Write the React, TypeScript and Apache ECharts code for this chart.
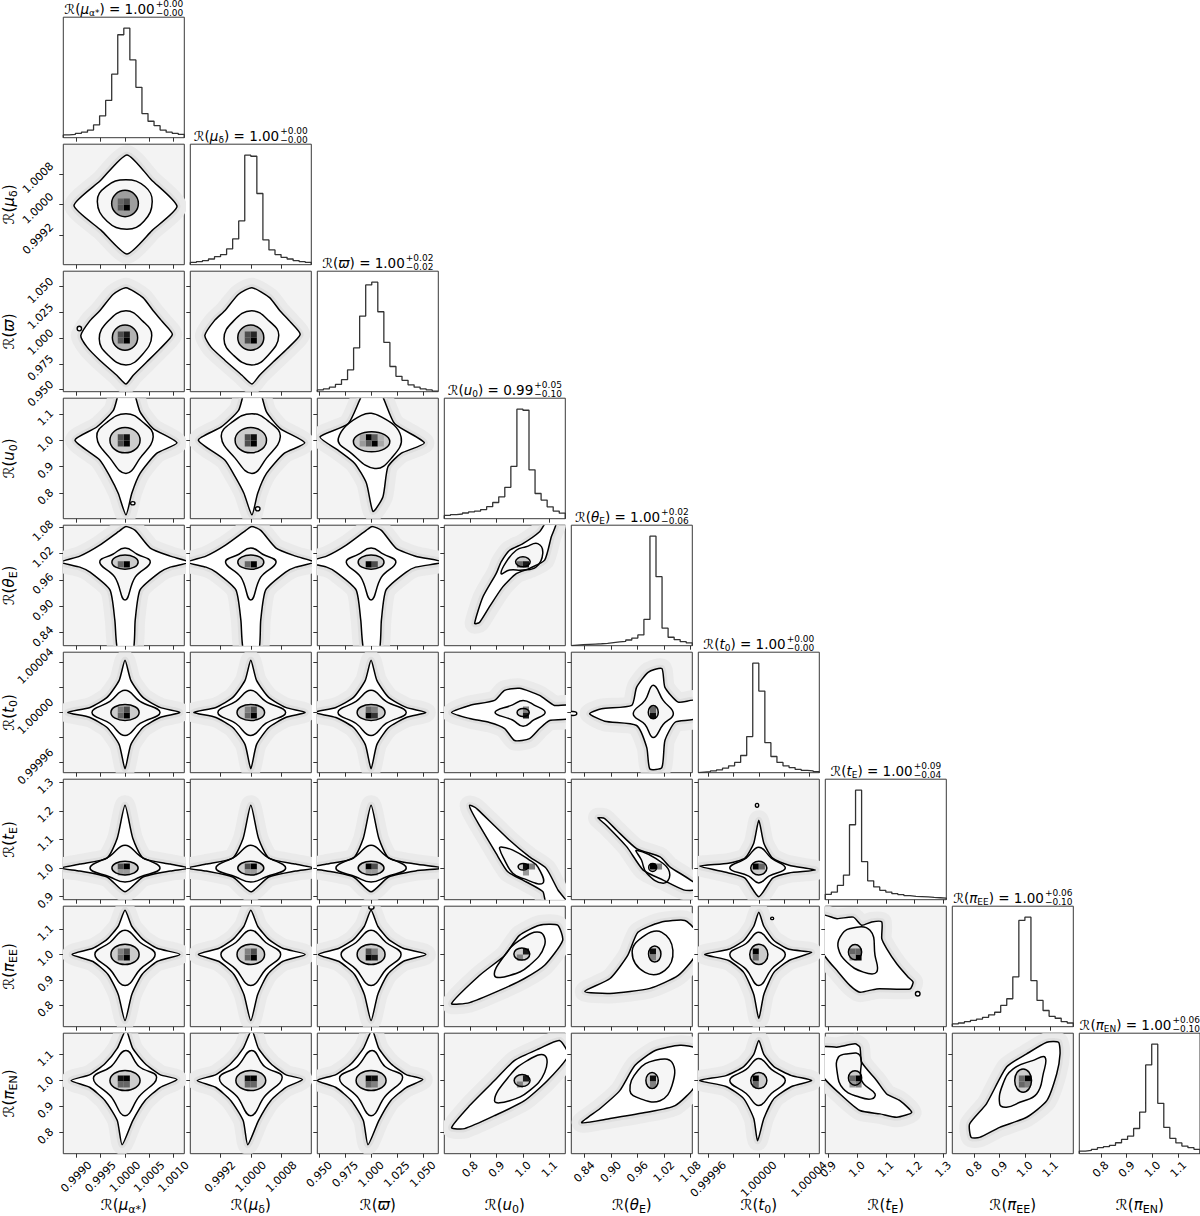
import React, { useEffect, useRef } from "react";
import * as echarts from "echarts";

// ---------------- variables / axes ----------------
const VAR_SYMBOL = ["μ", "μ", "ϖ", "u", "θ", "t", "t", "π", "π"];
const VAR_SUBSCRIPT = ["α*", "δ", "", "0", "E", "0", "E", "EE", "EN"];
const RANGE_LO = [0.99873, 0.99842, 0.948, 0.7025, 0.8106, 0.999952, 0.8896, 0.715, 0.717];
const RANGE_HI = [1.00122, 1.00158, 1.065, 1.159, 1.0838, 1.000048, 1.3104, 1.19, 1.183];
// contour vertices below are stored as offsets from 1 in these units
const OFFSET_UNIT = [1e-4, 1e-4, 1e-2, 1e-2, 1e-2, 1e-5, 1e-2, 1e-2, 1e-2];
const TICK_VALUES = [
  [0.999, 0.9995, 1.0, 1.0005, 1.001],
  [0.9992, 1.0, 1.0008],
  [0.95, 0.975, 1.0, 1.025, 1.05],
  [0.8, 0.9, 1.0, 1.1],
  [0.84, 0.9, 0.96, 1.02, 1.08],
  [0.99996, 0.99998, 1.0, 1.00002, 1.00004],
  [0.9, 1.0, 1.1, 1.2, 1.3],
  [0.8, 0.9, 1.0, 1.1],
  [0.8, 0.9, 1.0, 1.1],
];
const TICK_LABELS = [
  ["0.9990", "0.9995", "1.0000", "1.0005", "1.0010"],
  ["0.9992", "1.0000", "1.0008"],
  ["0.950", "0.975", "1.000", "1.025", "1.050"],
  ["0.8", "0.9", "1.0", "1.1"],
  ["0.84", "0.90", "0.96", "1.02", "1.08"],
  ["0.99996", "", "1.00000", "", "1.00004"],
  ["0.9", "1.0", "1.1", "1.2", "1.3"],
  ["0.8", "0.9", "1.0", "1.1"],
  ["0.8", "0.9", "1.0", "1.1"],
];
const MEDIAN = ["1.00", "1.00", "1.00", "0.99", "1.00", "1.00", "1.00", "1.00", "1.00"];
const ERR_PLUS = ["+0.00", "+0.00", "+0.02", "+0.05", "+0.02", "+0.00", "+0.09", "+0.06", "+0.06"];
const ERR_MINUS = ["−0.00", "−0.00", "−0.02", "−0.10", "−0.06", "−0.00", "−0.04", "−0.10", "−0.10"];

// ---------------- 1D histograms (20 bins across each axis range, relative counts) ----------------
const HIST_MU_A = [2.5, 3, 4, 5, 7, 11.7, 20, 34, 58, 94, 100, 71, 46, 22, 15, 11, 7, 5, 4, 3];
const HIST_MU_D = [2.1, 2.8, 3.7, 5.2, 7.3, 9.2, 14.4, 23.5, 40, 100, 99, 65, 22.6, 13.5, 9.2, 6.7, 5.2, 3.7, 2.8, 2.1];
const HIST_PLX = [1.6, 2.5, 4.1, 6.6, 11, 20, 40, 69, 97.5, 100, 73, 45, 23, 14, 10.4, 6.3, 4.1, 2.5, 1.6, 0.6];
const HIST_U0 = [3, 3.7, 4.3, 5.2, 6.2, 7, 8.3, 11, 14.8, 20, 28.6, 47.7, 100, 99, 44.6, 23, 17, 10.8, 7, 5];
const HIST_THE = [0.6, 0.9, 1.2, 1.5, 1.8, 2.2, 2.8, 3.4, 4, 5.2, 7, 9.8, 24, 100, 63, 16, 7.7, 5.5, 3.7, 2.5];
const HIST_T0 = [0.6, 0.9, 1.6, 2.5, 4.1, 6.3, 9.4, 15.7, 33, 100, 74.5, 27.4, 14.8, 9.4, 6.3, 4.7, 3.1, 2.2, 1.6, 0.9];
const HIST_TE = [4.9, 7, 13, 22.4, 68.4, 100, 34.7, 17.2, 11.7, 8.6, 7, 5.5, 4.6, 3.7, 3.1, 2.8, 2.5, 2.1, 1.8, 1.5];
const HIST_PIEE = [2.5, 3.4, 4.6, 5.8, 7, 8.6, 10.8, 13.2, 19.4, 25.5, 45.5, 97, 100, 42, 24, 14.8, 9.5, 7.7, 4.6, 3.4];
const HIST_PIEN = [2.4, 3, 4, 5.5, 6.4, 7.6, 10, 13, 16, 23, 38, 81, 100, 46, 24, 14, 9.8, 7, 5.5, 4];
const HISTS = [HIST_MU_A, HIST_MU_D, HIST_PLX, HIST_U0, HIST_THE, HIST_T0, HIST_TE, HIST_PIEE, HIST_PIEN];

// ---------------- 2D panels: contours (offset units), inner ellipse [cx,cy,rx,ry], dense cells [ix,iy,gray], small islands [cx,cy,rx,ry] ----------------
const P10 = { out: [[-10.5, -0.3], [-5.1, 6.2], [0.4, 13], [5.4, 6.5], [10.7, -0.5], [5.6, -6.8], [0.4, -13], [-4.9, -6.8]],
  mid: [[-5.7, 0.8], [-3.9, 4.7], [0.2, 6.5], [4.1, 4.7], [5.6, 0.8], [3.9, -4.4], [0.4, -6.5], [-3.7, -4.4]],
  inn: [0, 0.25, 2.75, 3.45], cells: [[10, 9, 0], [10, 10, 0.3], [9, 9, 0.35], [9, 10, 0.4]], fill: 0.62 };
const P20 = { out: [[-9.1, 0.26], [-7.2, 1.7], [-5.2, 2.66], [-2.4, 4.26], [0.2, 4.9], [3.7, 3.94], [5.8, 2.66], [7.8, 1.54], [9.75, 0.36], [7.2, -1.03], [4.5, -2.3], [1.7, -3.6], [0.2, -4.45], [-1.7, -3.6], [-5.2, -2.14], [-7.8, -0.87]],
  mid: [[-5.3, -0.07], [-3.5, 1.63], [0.2, 2.66], [3.7, 1.63], [5.5, 0.26], [3.5, -1.63], [0.2, -2.6], [-3.5, -1.63]],
  inn: [0, 0.05, 2.6, 1.22], cells: [[10, 8, 0], [10, 9, 0.1], [9, 9, 0.3], [9, 8, 0.35]], fill: 0.7,
  blobs: [[-9.4, 0.93, 0.45, 0.22]] };
const P21 = { out: [[-12, 0.26], [-9.5, 1.7], [-6.8, 2.66], [-3.2, 4.26], [0.3, 4.9], [4.9, 3.94], [7.6, 2.66], [10.4, 1.54], [12.9, 0.36], [9.5, -1.03], [5.9, -2.3], [2.3, -3.6], [0.3, -4.45], [-2.3, -3.6], [-6.8, -2.14], [-10.4, -0.87]],
  mid: [[-7, -0.07], [-4.6, 1.63], [0.26, 2.66], [4.9, 1.63], [7.3, 0.26], [4.6, -1.63], [0.26, -2.6], [-4.6, -1.63]],
  inn: [0, 0.05, 3.4, 1.22], cells: [[10, 8, 0], [10, 9, 0.15], [9, 8, 0.3], [9, 9, 0.3]], fill: 0.7 };
const P30 = { out: [[-10.3, 0], [-5.8, 5], [-2.4, 11.3], [-1.0, 18.9], [1.6, 18.9], [3.1, 10.7], [5.8, 4.4], [10.7, -1], [6.5, -5], [3.1, -12.6], [1.4, -20.1], [0.2, -28.3], [-1.4, -20.1], [-3.1, -13.8], [-5.2, -7.5]],
  mid: [[-5.8, 1.26], [-3.7, 6.8], [0.2, 10], [3.7, 6.8], [5.8, 1.26], [3.1, -6.8], [0.2, -12.6], [-3.1, -6.8]],
  inn: [0, 0, 3.1, 4.8], cells: [[10, 12, 0], [10, 13, 0.05], [9, 12, 0.3], [9, 13, 0.3]],
  blobs: [[1.6, -23.9, 0.45, 0.6]] };
const P31 = { out: [[-13.7, 0], [-7.7, 5], [-3.2, 11.3], [-1.4, 18.9], [2.2, 18.9], [4.1, 10.7], [7.7, 4.4], [14.1, -1], [8.7, -5], [4.1, -12.6], [1.8, -20.1], [0.3, -28.3], [-1.8, -20.1], [-4.1, -13.8], [-6.8, -7.5]],
  mid: [[-7.7, 1.26], [-4.9, 6.8], [0.3, 10], [4.9, 6.8], [7.7, 1.26], [4.1, -6.8], [0.3, -12.6], [-4.1, -6.8]],
  inn: [0, 0, 4.1, 4.8], cells: [[10, 12, 0], [10, 13, 0.05], [9, 12, 0.3], [9, 13, 0.3]],
  blobs: [[1.8, -26, 0.6, 0.8]] };
const P32 = { out: [[-4.94, 1.25], [-2.2, 6.3], [-0.6, 18.9], [0.8, 18.9], [2.27, 6.3], [5.15, -1.0], [2.9, -5], [1.63, -10.1], [1.15, -21.4], [0.19, -27], [-0.45, -16.3], [-1.58, -8.8], [-3.2, -3.8]],
  mid: [[-3.17, 0.64], [-0.93, 9.4], [0.99, 8.8], [2.9, 1.25], [1.95, -6.9], [0.35, -10.7], [-1.9, -5]],
  inn: [0.05, -0.6, 1.76, 3.8], cells: [[8, 13, 0], [9, 12, 0], [9, 13, 0.35], [8, 12, 0.35], [7, 12, 0.6], [10, 12, 0.65], [7, 13, 0.65], [10, 13, 0.7]] };
const P40 = { out: [[-13.2, 0], [-9.3, 1.36], [-5.2, 3.85], [-1, 7.2], [0.2, 8.1], [2.1, 7.2], [5.2, 3.2], [9.3, 1.36], [13.2, 0], [9.3, -1.13], [7.2, -2.26], [3.1, -6.3], [2.1, -13.1], [1.6, -20.4], [-1.4, -20.4], [-2.1, -13.1], [-3.1, -6.3], [-7.2, -2.26], [-9.3, -1.13]],
  mid: [[-5.2, 0], [-2.5, 1.8], [0, 3.2], [2.5, 1.8], [5.2, 0], [2.1, -3.4], [0, -8.6], [-2.1, -3.4]],
  inn: [0, 0, 2.7, 1.6], cells: [[10, 13, 0], [9, 13, 0.4]] };
const P41 = { out: [[-16.6, 0], [-11.7, 1.36], [-6.6, 3.85], [-1.3, 7.2], [0.25, 8.1], [2.6, 7.2], [6.6, 3.2], [11.7, 1.36], [16.6, 0], [11.7, -1.13], [9.1, -2.26], [3.9, -6.3], [2.6, -13.1], [2, -20.4], [-1.8, -20.4], [-2.6, -13.1], [-3.9, -6.3], [-9.1, -2.26], [-11.7, -1.13]],
  mid: [[-6.6, 0], [-3.1, 1.8], [0, 3.2], [3.1, 1.8], [6.6, 0], [2.6, -3.4], [0, -8.6], [-2.6, -3.4]],
  inn: [0, 0, 3.4, 1.6], cells: [[10, 13, 0], [9, 13, 0.4]] };
const P42 = { out: [[-6.2, 0], [-4.3, 1.36], [-2.4, 3.85], [-0.47, 7.2], [0.1, 8.1], [1, 7.2], [2.4, 3.2], [4.3, 1.36], [7, 0], [4.3, -1.13], [3.4, -2.26], [1.45, -6.3], [1, -13.1], [0.75, -20.4], [-0.65, -20.4], [-1, -13.1], [-1.45, -6.3], [-3.4, -2.26], [-4.3, -1.13]],
  mid: [[-2.4, 0], [-1.2, 1.8], [0, 3.2], [1.2, 1.8], [2.4, 0], [1, -3.4], [0, -8.6], [-1, -3.4]],
  inn: [0, 0, 1.25, 1.6], cells: [[8, 13, 0], [9, 13, 0.3]] };
const P43 = { out: [[-18.3, -13.9], [-15.2, -7.9], [-10.2, -2.6], [-8.3, 0.07], [-5.1, 2.7], [-0.1, 4.2], [6.2, 6.9], [8.7, 9], [12.5, 9], [10.6, 5.7], [8.1, 0.45], [2.4, -1.4], [-2.6, -2.6], [-7.7, -5.6], [-12.7, -10.1], [-16.5, -13.7]],
  mid: [[-8.3, -2.6], [-6.4, 0.07], [-2.6, 2.7], [1.1, 3.5], [5.5, 4.2], [7.4, 2.0], [4.9, -1.1], [-0.1, -1.8], [-5.1, -1.8]],
  inn: [-0.1, 0.07, 2.76, 1.13], cells: [[13, 13, 0.1], [12, 13, 0.4]] };
const P50 = { out: [[-11.8, 0], [-7.2, 0.4], [-3.7, 1.2], [-1.2, 2.56], [0, 4.16], [1.2, 2.56], [3.7, 1.2], [7.2, 0.4], [11.3, 0], [7.2, -0.4], [3.7, -1.2], [1.2, -2.56], [0, -4.48], [-1.2, -2.56], [-3.7, -1.2], [-7.2, -0.4]],
  mid: [[-6.8, 0], [-3.1, 0.88], [0, 1.76], [3.1, 0.88], [7.2, 0], [3.1, -0.88], [0, -1.84], [-3.1, -0.88]],
  inn: [0, 0, 2.9, 0.64], cells: [[10, 9, 0], [10, 10, 0.3], [9, 9, 0.4], [9, 10, 0.5]] };
const P51 = { out: [[-14.9, 0], [-9.1, 0.4], [-4.7, 1.2], [-1.5, 2.56], [0, 4.16], [1.5, 2.56], [4.7, 1.2], [9.1, 0.4], [14.2, 0], [9.1, -0.4], [4.7, -1.2], [1.5, -2.56], [0, -4.48], [-1.5, -2.56], [-4.7, -1.2], [-9.1, -0.4]],
  mid: [[-8.6, 0], [-3.9, 0.88], [0, 1.76], [3.9, 0.88], [9.1, 0], [3.9, -0.88], [0, -1.84], [-3.9, -0.88]],
  inn: [0, 0, 3.6, 0.64], cells: [[10, 9, 0], [10, 10, 0.3], [9, 9, 0.4], [9, 10, 0.5]] };
const P52 = { out: [[-5.5, 0], [-3.4, 0.4], [-1.7, 1.2], [-0.56, 2.56], [0, 4.16], [0.56, 2.56], [1.7, 1.2], [3.4, 0.4], [5.3, 0], [3.4, -0.4], [1.7, -1.2], [0.56, -2.56], [0, -4.48], [-0.56, -2.56], [-1.7, -1.2], [-3.4, -0.4]],
  mid: [[-3.2, 0], [-1.45, 0.88], [0, 1.76], [1.45, 0.88], [3.4, 0], [1.45, -0.88], [0, -1.84], [-1.45, -0.88]],
  inn: [0, 0, 1.35, 0.64], cells: [[8, 9, 0], [9, 9, 0.2], [8, 10, 0.4], [9, 10, 0.5]] };
const P53 = { out: [[-27, 0], [-20.2, 0.56], [-10.8, 0.96], [-7, 1.76], [-1.4, 1.92], [6.2, 1.36], [11.8, 0.56], [17, 0.56], [17, -0.48], [10, -0.64], [6.2, -1.28], [2.4, -2.08], [-3.2, -2.24], [-7, -1.28], [-12.7, -0.8], [-20.2, -0.48]],
  mid: [[-10.6, 0], [-4, 0.6], [0, 0.96], [4, 0.6], [8.3, 0], [4, -0.6], [0, -1.1], [-4, -0.6]],
  inn: [0, 0, 2.3, 0.32], cells: [[13, 9, 0.1], [13, 10, 0.5]] };
const P54 = { out: [[-14.8, -0.1], [-12.1, 0.3], [-5.3, 0.56], [-4.2, 2.0], [-1.6, 3.2], [1.5, 3.5], [2.2, 2.0], [5.2, 0.82], [9, 0.96], [9, -0.5], [4.5, -0.78], [2.2, -2.24], [1.5, -4.4], [-1.2, -4.5], [-1.9, -2.8], [-4.2, -1.04], [-11.4, -0.7]],
  mid: [[-4.95, -0.1], [-2.3, 0.96], [-0.43, 2.16], [1.8, 0.96], [4.1, -0.1], [1.8, -0.96], [-0.43, -2.0], [-2.3, -0.96]],
  inn: [-0.43, 0.02, 1.13, 0.53], cells: [[13, 9, 0.05], [13, 10, 0.4]],
  blobs: [[-18.6, -0.08, 0.9, 0.16]] };
const P60 = { out: [[-13.2, 0], [-9.3, 1.4], [-3.7, 3.5], [-1.6, 10.4], [0, 21.9], [1.6, 10.4], [3.7, 3.5], [9.3, 1.4], [13.2, 0], [9.3, -1], [3.7, -3.1], [0, -8.3], [-3.7, -3.1], [-9.3, -1]],
  mid: [[-7.2, 0], [-3.1, 4.2], [0, 8], [3.1, 4.2], [7.2, 0], [3.1, -3.1], [0, -4.9], [-3.1, -3.1]],
  inn: [0, 0, 2.7, 2.4], cells: [[10, 5, 0], [9, 5, 0.3], [10, 4, 0.6], [9, 4, 0.6]] };
const P61 = { out: [[-16.6, 0], [-11.7, 1.4], [-4.7, 3.5], [-2, 10.4], [0, 21.9], [2, 10.4], [4.7, 3.5], [11.7, 1.4], [16.6, 0], [11.7, -1], [4.7, -3.1], [0, -8.3], [-4.7, -3.1], [-11.7, -1]],
  mid: [[-9.1, 0], [-3.9, 4.2], [0, 8], [3.9, 4.2], [9.1, 0], [3.9, -3.1], [0, -4.9], [-3.9, -3.1]],
  inn: [0, 0, 3.4, 2.4], cells: [[10, 5, 0], [9, 5, 0.3], [10, 4, 0.6], [9, 4, 0.6]] };
const P62 = { out: [[-6.2, 0], [-4.3, 1.4], [-1.7, 3.5], [-0.75, 10.4], [0, 21.9], [0.75, 10.4], [1.7, 3.5], [4.3, 1.4], [7, 0], [4.3, -1], [1.7, -3.1], [0, -8.3], [-1.7, -3.1], [-4.3, -1]],
  mid: [[-3.4, 0], [-1.45, 4.2], [0, 8], [1.45, 4.2], [3.4, 0], [1.45, -3.1], [0, -4.9], [-1.45, -3.1]],
  inn: [0, 0, 1.25, 2.4], cells: [[8, 5, 0], [9, 5, 0.3], [8, 4, 0.6], [9, 4, 0.6]] };
const P63 = { out: [[-20.2, 21.9], [-19.6, 20.1], [-16.5, 14.9], [-10.2, 5.1], [-5.8, -1.3], [-0.1, -4.2], [7.4, -8.2], [8.7, -12], [16.5, -12], [13.1, -7.6], [8.7, -0.1], [2.4, 3.9], [-5.1, 9.7], [-17.1, 20.4], [-18.3, 21.3]],
  mid: [[-8.9, 6.8], [-7, 2.8], [-3.9, -1.8], [-0.1, -3.6], [7.4, -5.3], [5.5, 0.45], [2.4, 2.8], [-3.9, 6.25], [-8.3, 7.4]],
  inn: [0, 0.45, 1.9, 1.15], cells: [[13, 5, 0.05], [14, 5, 0.5], [13, 4, 0.6]] };
const P64 = { out: [[-12.9, 17.6], [-11.4, 17.3], [-8.7, 13.2], [-4.2, 6.8], [1.1, 3.9], [3.3, 0.45], [9, -5.3], [9, -7.6], [6.4, -7.6], [1.8, -4.2], [-2.7, -0.7], [-6.4, 7.4], [-11, 14.9], [-12.5, 16.9]],
  mid: [[-4.2, 6.25], [1.8, 1.6], [3.3, -2.4], [1.8, -5.3], [-1.9, -1.8], [-3.1, 2.8]],
  inn: [-0.57, 0.24, 0.9, 1.4], cells: [[13, 5, 0], [14, 5, 0.5]] };
const P65 = { out: [[-4.7, 0.7], [-2.4, 1.7], [-1.1, 3.5], [-0.4, 8.7], [0, 16.7], [0.4, 8.7], [1.1, 3.5], [2.4, 1], [4.5, -0.7], [2.4, -1.7], [1.1, -3.5], [0, -10], [-1.1, -3.5], [-2.4, -1.7]],
  mid: [[-2.3, 0], [-1, 3.5], [0, 7.3], [1, 3.5], [2.1, 0], [0.8, -2.8], [0, -5.2], [-0.8, -2.8]],
  inn: [0, 0, 0.64, 2.4], cells: [[9, 5, 0], [10, 5, 0.4]],
  blobs: [[-0.14, 21.9, 0.13, 0.7]] };
const P70 = { out: [[-10.9, 0], [-6.6, 2.4], [-3.7, 5.9], [-1.4, 11.1], [0, 17.4], [1.4, 11.1], [3.7, 5.9], [6.6, 2.4], [11.3, 0], [6.6, -2.8], [3.5, -7.9], [1.4, -15.8], [0, -26.1], [-1.4, -15.8], [-3.5, -7.9], [-6.6, -2.8]],
  mid: [[-6.2, 0], [-3.1, 4.7], [0, 9.5], [3.1, 4.7], [6.2, 0], [3.1, -5.9], [0, -12.3], [-3.1, -5.9]],
  inn: [0, 0, 2.9, 4], cells: [[10, 11, 0], [10, 12, 0.3], [9, 11, 0.4], [9, 12, 0.5]] };
const P71 = { out: [[-13.7, 0], [-8.3, 2.4], [-4.7, 5.9], [-1.8, 11.1], [0, 17.4], [1.8, 11.1], [4.7, 5.9], [8.3, 2.4], [14.2, 0], [8.3, -2.8], [4.4, -7.9], [1.8, -15.8], [0, -26.1], [-1.8, -15.8], [-4.4, -7.9], [-8.3, -2.8]],
  mid: [[-7.8, 0], [-3.9, 4.7], [0, 9.5], [3.9, 4.7], [7.8, 0], [3.9, -5.9], [0, -12.3], [-3.9, -5.9]],
  inn: [0, 0, 3.6, 4], cells: [[10, 11, 0], [10, 12, 0.3], [9, 11, 0.4], [9, 12, 0.5]] };
const P72 = { out: [[-5.1, 0], [-3.1, 2.4], [-1.7, 5.9], [-0.65, 11.1], [0, 17.4], [0.65, 11.1], [1.7, 5.9], [3.1, 2.4], [5.3, 0], [3.1, -2.8], [1.6, -7.9], [0.65, -15.8], [0, -26.1], [-0.65, -15.8], [-1.6, -7.9], [-3.1, -2.8]],
  mid: [[-2.9, 0], [-1.45, 4.7], [0, 9.5], [1.45, 4.7], [2.9, 0], [1.45, -5.9], [0, -12.3], [-1.45, -5.9]],
  inn: [0, 0, 1.35, 4], cells: [[8, 11, 0], [9, 11, 0.1], [8, 12, 0.3], [9, 12, 0.5]],
  blobs: [[0.03, 18.6, 0.25, 0.8]] };
const P73 = { out: [[-27, -19.4], [-16.5, -8.3], [-7, -0.4], [-1.4, 7.5], [6.2, 11.5], [13, 11.5], [14.9, 5.5], [8.1, -4.3], [0.5, -9.5], [-8.9, -14.2], [-20.2, -19]],
  mid: [[-10.8, -8.3], [-7, -0.4], [-1.4, 5.5], [6.2, 8.7], [8.1, 3.6], [2.4, -4.3], [-5.1, -8.3]],
  inn: [-0.5, 0.16, 3, 2.4], cells: [[13, 12, 0.1], [12, 11, 0.5]] };
const P74 = { out: [[-15.9, -14.6], [-10.2, -9.5], [-6.2, -0.4], [-3.9, 8.7], [1.1, 12.6], [6.7, 13.4], [9, 9.5], [9, -0.4], [5.2, -8.3], [-1.2, -13.4], [-10.2, -15.4]],
  mid: [[-5.2, 0.8], [-2.3, 7.5], [1.5, 8.7], [4, 1.6], [2.2, -6.3], [-2.3, -7.1]],
  inn: [-0.1, 0.16, 1.4, 3.2], cells: [[13, 12, 0.05], [13, 11, 0.5]] };
const P75 = { out: [[-4.3, 0], [-2.4, 2], [-1.2, 5.5], [-0.4, 11.1], [0, 16.6], [0.4, 11.1], [1.2, 5.5], [2.4, 2], [4.2, 0.8], [2.4, -2.4], [1.2, -7.1], [0.4, -15.8], [0, -25.3], [-0.4, -15.8], [-1.2, -7.1], [-2.4, -2.4]],
  mid: [[-2.3, 0], [-1, 4.3], [0, 8.7], [1, 4.3], [2.1, 0], [1, -5.9], [0, -12.3], [-1, -5.9]],
  inn: [0, 0, 0.72, 4], cells: [[9, 12, 0], [9, 11, 0.4]],
  blobs: [[1.06, 14.2, 0.12, 0.5]] };
const P76 = { out: [[-12, 15.4], [-7, 14.1], [-1.3, 14.7], [1.6, 11.5], [5.1, 12.8], [8.6, 12.8], [8.6, 6.2], [10.3, 2.3], [13.8, -3.7], [17.8, -9], [19.5, -10.9], [18.4, -13.6], [6.8, -13.6], [1, -14.9], [-2.4, -12.3], [-6.5, -7], [-12, 0.9]],
  mid: [[-5.9, 6.8], [-2.4, 10.2], [4.5, 9.5], [6.25, -0.4], [6.8, -7], [2.2, -7], [-3.6, -3], [-6.5, 2.3]],
  inn: [-0.7, 0.9, 2.3, 3], cells: [[5, 11, 0], [4, 12, 0.4], [5, 12, 0.4], [4, 11, 0.6]],
  blobs: [[21.1, -15.5, 0.8, 0.9]] };
const P80 = { out: [[-11.1, 0], [-7.2, 2.3], [-4.1, 6.6], [-1.6, 12.4], [0.2, 19.5], [1.6, 12.4], [4.1, 6.6], [7.2, 2.3], [10.7, 0.4], [7.2, -2.7], [4.1, -7.8], [1.6, -15.5], [-0.6, -24.8], [-1.6, -15.5], [-4.1, -7.8], [-7.2, -2.7]],
  mid: [[-6.5, 0.9], [-2.9, 5.4], [0.2, 11.6], [2.9, 5.4], [6.5, 1.3], [2.9, -6.2], [0, -13.6], [-2.9, -6.2]],
  inn: [0, 0, 3.1, 3.9], cells: [[10, 12, 0], [9, 12, 0.05], [10, 11, 0.4], [9, 11, 0.4]] };
const P81 = { out: [[-14, 0], [-9.1, 2.3], [-5.2, 6.6], [-2, 12.4], [0.25, 19.5], [2, 12.4], [5.2, 6.6], [9.1, 2.3], [13.5, 0.4], [9.1, -2.7], [5.2, -7.8], [2, -15.5], [-0.8, -24.8], [-2, -15.5], [-5.2, -7.8], [-9.1, -2.7]],
  mid: [[-8.2, 0.9], [-3.6, 5.4], [0.25, 11.6], [3.6, 5.4], [8.2, 1.3], [3.6, -6.2], [0, -13.6], [-3.6, -6.2]],
  inn: [0, 0, 3.9, 3.9], cells: [[10, 12, 0], [9, 12, 0.05], [10, 11, 0.4], [9, 11, 0.4]] };
const P82 = { out: [[-5.2, 0], [-3.4, 2.3], [-1.9, 6.6], [-0.75, 12.4], [0.1, 19.5], [0.75, 12.4], [1.9, 6.6], [3.4, 2.3], [5, 0.4], [3.4, -2.7], [1.9, -7.8], [0.75, -15.5], [-0.3, -24.8], [-0.75, -15.5], [-1.9, -7.8], [-3.4, -2.7]],
  mid: [[-3.05, 0.9], [-1.35, 5.4], [0.1, 11.6], [1.35, 5.4], [3.05, 1.3], [1.35, -6.2], [0, -13.6], [-1.35, -6.2]],
  inn: [0, 0, 1.45, 3.9], cells: [[8, 12, 0], [9, 12, 0.05], [8, 11, 0.4], [9, 11, 0.5]] };
const P83 = { out: [[-27, -18.2], [-20.2, -9.7], [-10.8, 0], [-3.2, 7.8], [6.2, 12.4], [13.7, 15.5], [17, 9.7], [9.2, 0], [0.5, -7.8], [-10.8, -13.6], [-22.1, -18.6]],
  mid: [[-10.8, -7.8], [-5.1, 1.9], [1.7, 7.8], [8.1, 9.7], [8.1, 3.1], [2.4, -3.9], [-5.1, -7.8]],
  inn: [-0.4, 0, 3, 2.3], cells: [[13, 12, 0.1], [12, 11, 0.5]] };
const P84 = { out: [[-16.6, -16.3], [-12.5, -10.9], [-8, -3.9], [-4.6, 5.8], [0, 11.6], [5.6, 13.6], [9, 12.4], [9, -1.9], [4.5, -9.7], [-2.3, -12.4], [-10.2, -14.7]],
  mid: [[-5.7, -3.9], [-3.9, 3.9], [0, 7.8], [3.8, 7], [3.8, -1.9], [1.1, -7.8], [-3.4, -7]],
  inn: [-0.7, 0, 1.4, 3.1], cells: [[13, 12, 0.05], [13, 11, 0.5]] };
const P85 = { out: [[-4.7, 0], [-2.6, 1.9], [-1.2, 5.4], [-0.4, 10.1], [0, 15.5], [0.4, 10.1], [1.2, 5.4], [2.6, 1.9], [4.2, 0], [2.6, -2.3], [1.2, -7], [0.4, -14.7], [-0.1, -23.3], [-0.4, -14.7], [-1.2, -7], [-2.6, -2.3]],
  mid: [[-2.3, 0], [-1, 4.3], [0, 8.5], [1, 4.3], [2.1, 0], [1, -5], [0, -9.7], [-1, -5]],
  inn: [0, 0, 0.64, 3.1], cells: [[9, 12, 0], [9, 11, 0.4]] };
const P86 = { out: [[-12, 12.9], [-7, 12.9], [-0.7, 14.2], [1, 12.9], [1.6, 7.1], [6.8, 0], [10.3, -5.2], [14.9, -7.8], [19, -12.3], [13.8, -14.2], [8, -12.9], [1, -11.6], [-5.9, -5.2], [-12, 1.9]],
  mid: [[-6.5, 9], [-3.6, 10.3], [1, 9.7], [1.6, 0], [6.25, -5.2], [5.1, -7.1], [1, -6.5], [-4.8, -3.2], [-7, 3.9]],
  inn: [-0.7, 1, 2.3, 2.8], cells: [[5, 12, 0], [4, 12, 0.4], [5, 11, 0.5], [4, 11, 0.6]] };
const P87 = { out: [[-21.1, -22], [-21.7, -16.8], [-15.1, -9], [-7.2, 5.2], [0.7, 10.3], [8.6, 14.8], [13.2, 14.8], [13.8, 10.3], [12.5, 2.6], [8.6, -7.8], [0.7, -14.2], [-9.9, -18.1], [-17.8, -22]],
  mid: [[-9.9, -9], [-8.6, -1.3], [-4.6, 4.5], [3.3, 7.8], [7.9, 9], [7.2, 2.6], [4.6, -5.2], [-2, -8.4], [-7.2, -10.3]],
  inn: [-0.7, 0, 3.3, 4.5], cells: [[12, 12, 0], [11, 11, 0.4], [11, 12, 0.4], [12, 11, 0.5]] };

const PANELS: [number, number, any][] = [
  [1, 0, P10],
  [2, 0, P20], [2, 1, P21],
  [3, 0, P30], [3, 1, P31], [3, 2, P32],
  [4, 0, P40], [4, 1, P41], [4, 2, P42], [4, 3, P43],
  [5, 0, P50], [5, 1, P51], [5, 2, P52], [5, 3, P53], [5, 4, P54],
  [6, 0, P60], [6, 1, P61], [6, 2, P62], [6, 3, P63], [6, 4, P64], [6, 5, P65],
  [7, 0, P70], [7, 1, P71], [7, 2, P72], [7, 3, P73], [7, 4, P74], [7, 5, P75], [7, 6, P76],
  [8, 0, P80], [8, 1, P81], [8, 2, P82], [8, 3, P83], [8, 4, P84], [8, 5, P85], [8, 6, P86], [8, 7, P87],
];

// ---------------- layout ----------------
const COL_X0 = 63.3;
const ROW_Y0 = 17.2;
const PITCH = 127;
const PW = 121;
const PH = 120.5;
const FONT = "DejaVu Sans";
const TICK_FONT = 11;

let mctx: CanvasRenderingContext2D | null = null;
function textWidth(t: string, size: number, italic = false): number {
  if (!mctx) mctx = document.createElement("canvas").getContext("2d");
  if (!mctx) return t.length * size * 0.6;
  mctx.font = `${italic ? "italic " : ""}${size}px "${FONT}"`;
  return mctx.measureText(t).width;
}

type Part = { t: string; dx: number; dy: number; size: number; it: boolean };
type Run = { w: number; parts: Part[] };
function runOf(t: string, size: number, dy = 0, it = false): Run {
  return { w: textWidth(t, size, it), parts: [{ t, dx: 0, dy, size, it }] };
}
function stackOf(sup: string, sub: string, size: number, dySup: number, dySub: number): Run {
  const w = Math.max(textWidth(sup, size), textWidth(sub, size));
  return { w: w + 1, parts: [{ t: sup, dx: 1, dy: dySup, size, it: false }, { t: sub, dx: 1, dy: dySub, size, it: false }] };
}
function nameRuns(k: number, size: number): Run[] {
  const r: Run[] = [runOf("ℛ(", size), runOf(VAR_SYMBOL[k], size, 0, true)];
  if (VAR_SUBSCRIPT[k]) r.push(runOf(VAR_SUBSCRIPT[k], Math.round(size * 0.7), size * 0.2));
  return r;
}
function mathGroup(runs: Run[], x: number, y: number, rotation = 0): any {
  const W = runs.reduce((a, r) => a + r.w, 0);
  let cur = -W / 2;
  const children: any[] = [];
  for (const r of runs) {
    for (const p of r.parts) {
      children.push({
        type: "text",
        x: cur + p.dx,
        y: p.dy - 0.346 * p.size,
        silent: true,
        style: { text: p.t, fontSize: p.size, lineHeight: p.size, fontFamily: FONT, fontStyle: p.it ? "italic" : "normal", fill: "#000", align: "left", verticalAlign: "middle" },
      });
    }
    cur += r.w;
  }
  return { type: "group", x, y, rotation, children };
}

function makeRenderer(r: number, c: number, P: any) {
  return (_params: any, api: any) => {
    const ux = OFFSET_UNIT[c];
    const uy = OFFSET_UNIT[r];
    const pt = (d: number[]) => api.coord([1 + d[0] * ux, 1 + d[1] * uy]);
    const ell = (e: number[]) => {
      const cc = pt([e[0], e[1]]);
      return { cx: cc[0], cy: cc[1], rx: Math.abs(pt([e[0] + e[2], e[1]])[0] - cc[0]), ry: Math.abs(pt([e[0], e[1] + e[3]])[1] - cc[1]) };
    };
    const out = P.out.map(pt);
    const mid = P.mid.map(pt);
    const inner = ell(P.inn);
    const wx = (RANGE_HI[c] - RANGE_LO[c]) / 20;
    const wy = (RANGE_HI[r] - RANGE_LO[r]) / 20;
    const cells = P.cells.map(([ix, iy, g]: number[]) => {
      const a = api.coord([RANGE_LO[c] + ix * wx, RANGE_LO[r] + iy * wy]);
      const b = api.coord([RANGE_LO[c] + (ix + 1) * wx, RANGE_LO[r] + (iy + 1) * wy]);
      const v = Math.round(255 * g);
      return { type: "rect", shape: { x: Math.min(a[0], b[0]), y: Math.min(a[1], b[1]), width: Math.abs(b[0] - a[0]), height: Math.abs(b[1] - a[1]) }, style: { fill: `rgb(${v},${v},${v})` } };
    });
    const blobs = (P.blobs || []).map((e: number[]) => ({ type: "ellipse", shape: ell(e), style: { fill: "#ffffff", stroke: "#000", lineWidth: 1.4 } }));
    const fv = Math.round(255 * (P.fill ?? 0.8));
    const SO = 0.2;
    const SM = 0.45;
    const line = { fill: "none", stroke: "#000", lineWidth: 1.5, lineJoin: "round" };
    return {
      type: "group",
      children: [
        { type: "polygon", shape: { points: out, smooth: SO }, style: { fill: "none", stroke: "#eaeaea", lineWidth: 20, lineJoin: "round" } },
        { type: "polygon", shape: { points: out, smooth: SO }, style: { fill: "none", stroke: "#dfdfdf", lineWidth: 7, lineJoin: "round" } },
        { type: "polygon", shape: { points: out, smooth: SO }, style: { fill: "#ffffff" } },
        { type: "polygon", shape: { points: mid, smooth: SM }, style: { fill: "#f6f6f6" } },
        { type: "ellipse", shape: inner, style: { fill: `rgb(${fv},${fv},${fv})` } },
        ...cells,
        { type: "polygon", shape: { points: out, smooth: SO }, style: line },
        { type: "polygon", shape: { points: mid, smooth: SM }, style: line },
        { type: "ellipse", shape: inner, style: line },
        ...blobs,
      ],
    };
  };
}

type CellMeta = { gi: number; r: number; c: number; hist: boolean };

function buildOption(meta: CellMeta[]): any {
  const grid: any[] = [];
  const xAxis: any[] = [];
  const yAxis: any[] = [];
  const series: any[] = [];
  const tick = (k: number) => ({ show: true, inside: false, length: 4, customValues: TICK_VALUES[k], lineStyle: { color: "#333", width: 1 } });

  const addCell = (r: number, c: number, hist: boolean) => {
    const gi = grid.length;
    meta.push({ gi, r, c, hist });
    grid.push({ left: COL_X0 + c * PITCH, top: ROW_Y0 + r * PITCH, width: PW, height: PH, show: true, borderColor: "#3a3a3a", borderWidth: 1, backgroundColor: hist ? "#ffffff" : "#f3f3f3" });
    xAxis.push({ type: "value", gridIndex: gi, min: RANGE_LO[c], max: RANGE_HI[c], axisLine: { show: false }, splitLine: { show: false }, axisTick: tick(c), axisLabel: { show: false } });
    if (hist) {
      const maxH = Math.max(...HISTS[c]);
      yAxis.push({ type: "value", gridIndex: gi, min: 0, max: 1.1 * maxH, axisLine: { show: false }, splitLine: { show: false }, axisTick: { show: false }, axisLabel: { show: false } });
    } else {
      yAxis.push({ type: "value", gridIndex: gi, min: RANGE_LO[r], max: RANGE_HI[r], axisLine: { show: false }, splitLine: { show: false }, axisTick: tick(r), axisLabel: { show: false } });
    }
    return gi;
  };

  for (let k = 0; k < 9; k++) {
    const gi = addCell(k, k, true);
    const h = HISTS[k];
    const w = (RANGE_HI[k] - RANGE_LO[k]) / h.length;
    const pts: number[][] = [[RANGE_LO[k], 0]];
    h.forEach((v, i) => {
      pts.push([RANGE_LO[k] + i * w, v]);
      pts.push([RANGE_LO[k] + (i + 1) * w, v]);
    });
    pts.push([RANGE_HI[k], 0]);
    series.push({ type: "line", xAxisIndex: gi, yAxisIndex: gi, data: pts, symbol: "none", silent: true, clip: true, lineStyle: { color: "#333", width: 1.3 } });
  }
  for (const [r, c, P] of PANELS) {
    const gi = addCell(r, c, false);
    series.push({ type: "custom", xAxisIndex: gi, yAxisIndex: gi, clip: true, silent: true, data: [[1, 1]], renderItem: makeRenderer(r, c, P) });
  }
  return { animation: false, backgroundColor: "#ffffff", grid, xAxis, yAxis, series };
}

function buildGraphics(chart: any, meta: CellMeta[]): any[] {
  const g: any[] = [];
  const h = TICK_FONT * 1.164;
  const lbl = (t: string, x: number, y: number) => ({
    type: "text",
    x,
    y,
    rotation: Math.PI / 4,
    silent: true,
    style: { text: t, fontSize: TICK_FONT, lineHeight: TICK_FONT, fontFamily: FONT, fill: "#000", align: "center", verticalAlign: "middle" },
  });
  for (const m of meta) {
    if (m.r === 8) {
      const axisY = ROW_Y0 + 8 * PITCH + PH;
      TICK_VALUES[m.c].forEach((v, i) => {
        const t = TICK_LABELS[m.c][i];
        if (!t) return;
        const px = chart.convertToPixel({ xAxisIndex: m.gi }, v);
        const b = (textWidth(t, TICK_FONT) + h) * Math.SQRT1_2;
        g.push(lbl(t, px, axisY + 5 + b / 2));
      });
    }
    if (m.c === 0 && !m.hist) {
      const axisX = COL_X0;
      TICK_VALUES[m.r].forEach((v, i) => {
        const t = TICK_LABELS[m.r][i];
        if (!t) return;
        const py = chart.convertToPixel({ yAxisIndex: m.gi }, v);
        const b = (textWidth(t, TICK_FONT) + h) * Math.SQRT1_2;
        g.push(lbl(t, axisX - 7 - b / 2, py + 4));
      });
    }
  }
  for (let k = 0; k < 9; k++) {
    const runs = [...nameRuns(k, 13.5), runOf(") = " + MEDIAN[k], 13.5), stackOf(ERR_PLUS[k], ERR_MINUS[k], 9, -6.4, 3.0)];
    g.push(mathGroup(runs, COL_X0 + k * PITCH + PW / 2, ROW_Y0 + k * PITCH - 4));
    g.push(mathGroup([...nameRuns(k, 15), runOf(")", 15)], COL_X0 + k * PITCH + PW / 2, 1210));
    if (k > 0) g.push(mathGroup([...nameRuns(k, 15), runOf(")", 15)], 14.5, ROW_Y0 + k * PITCH + PH / 2, Math.PI / 2));
  }
  return g;
}

export default function App() {
  const ref = useRef<HTMLDivElement>(null);
  useEffect(() => {
    if (!ref.current) return;
    const chart = echarts.init(ref.current, null, { renderer: "svg" });
    const meta: CellMeta[] = [];
    chart.setOption(buildOption(meta));
    chart.setOption({ graphic: buildGraphics(chart, meta) });
    return () => chart.dispose();
  }, []);
  return <div ref={ref} style={{ position: "absolute", left: 0, top: 0, width: 1200, height: 1216, background: "#fff" }} />;
}
